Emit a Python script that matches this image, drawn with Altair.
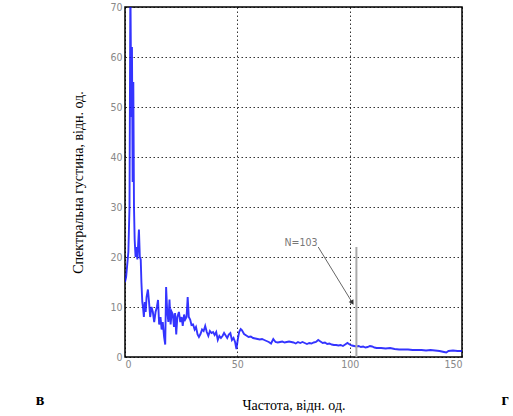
import altair as alt
import pandas as pd

freq = [0, 0.5, 1, 1.5, 2.0, 2.4, 2.8, 3.1, 3.4, 3.7, 4.0, 4.3, 4.7, 5.1, 5.5, 5.9, 6.2, 6.6, 7.0, 7.3,
        7.7, 8.0, 8.4, 8.8, 9.2, 9.6, 10.2, 10.7, 11.2, 11.8, 12.4, 13.0, 13.6, 14.2, 14.7, 15.2, 15.8,
        16.3, 16.8, 17.4, 17.9, 18.3, 18.8, 19.3, 19.8, 20.3, 20.8, 21.3, 21.8, 22.3, 22.8, 23.3, 24.0,
        24.6, 25.2, 25.7, 26.3, 26.8, 27.4, 27.9, 28.4, 29.0, 29.6, 30.3, 31.0, 31.6, 32.3, 32.9, 33.6,
        34.3, 35.0, 35.7, 36.4, 37.1, 37.8, 38.5, 39.2, 39.9, 40.6, 41.3, 42.0, 42.7, 43.4, 44.1, 44.8,
        45.5, 46.2, 46.9, 47.6, 48.3, 49.0, 49.6, 50.2, 50.8, 51.5, 52, 53, 54, 55, 56, 57, 58, 59, 60,
        61, 62, 63, 64, 65, 66, 67, 68, 69, 70, 71, 72, 73, 74, 75, 76, 77, 78, 79, 80, 81, 82, 83, 84,
        85, 86, 87, 88, 89, 90, 91, 92, 93, 94, 95, 96, 97, 98, 99, 100, 101, 102, 103, 104, 105, 106,
        107, 108, 109, 110, 111, 112, 114, 116, 118, 120, 122, 124, 126, 128, 130, 132, 134, 136, 138,
        140, 142, 143, 144, 146, 148, 150]
density = [15, 16, 18.5, 21, 30, 75, 48, 62, 35, 55, 30, 23.5, 20, 22, 19.5, 23, 25.5, 20, 19.5, 15,
           11, 10, 8, 11, 9, 12, 13.5, 11, 8, 10, 9, 7, 9, 10, 11.4, 6.5, 8,
           5.5, 7, 4, 2.5, 14, 9, 7, 11.5, 6.5, 9, 8.5, 6, 8.8, 4.5, 8, 9,
           7, 8, 6.2, 8.5, 7.5, 8, 12, 8, 7.5, 6.4, 6.5, 5.5, 6, 4.5, 4, 4.6,
           5.5, 5.2, 6.2, 5, 4.2, 5.2, 4.8, 5, 4.4, 5, 3.4, 4.2, 3.8, 4.2, 4.8, 4.3,
           3.8, 4.5, 4.8, 3.4, 3.8, 3.0, 1.6, 3.5, 5.0, 5.6, 5.4, 4.6, 4.3, 4.0, 4.1, 3.8, 3.7, 3.6, 3.5,
           3.6, 3.4, 3.2, 3.0, 2.7, 3.6, 3.0, 2.9, 3.0, 3.1, 2.9, 3.0, 3.1, 3.0, 2.9, 2.7, 3.0, 2.8, 3.0, 2.8, 2.6, 2.8, 2.7, 2.9,
           3.0, 3.4, 3.1, 2.8, 2.9, 2.6, 2.7, 2.5, 2.4, 2.4, 2.3, 2.4, 2.2, 2.5, 2.8, 2.5, 2.3, 2.2, 2.1, 2.2, 2.0, 2.1,
           1.9, 2.0, 2.2, 2.1, 1.9, 1.8, 1.8, 1.7, 1.8, 1.6, 1.5, 1.5, 1.5, 1.4, 1.4, 1.4, 1.3, 1.4, 1.3,
           1.2, 1.0, 0.9, 1.2, 1.3, 1.2, 1.2]

x_ticks = [0, 50, 100, 150]
y_ticks = [0, 10, 20, 30, 40, 50, 60, 70]

marker_x = [103, 103]
marker_y = [0, 22]
arrow_x = [86, 101]
arrow_y = [22, 11]
label_text = ["N=103"]
label_x = [71]
label_y = [22.8]

df = pd.DataFrame({"f": freq, "s": density})
marker_df = pd.DataFrame({"x": [marker_x[0]], "y": [marker_y[0]], "y2": [marker_y[1]]})
arrow_df = pd.DataFrame({"x": arrow_x, "y": arrow_y})
head_df = pd.DataFrame({"x": [arrow_x[1]], "y": [arrow_y[1]]})
label_df = pd.DataFrame({"t": label_text, "x": label_x, "y": label_y})

lab_font = "DejaVu Sans Condensed, Liberation Sans Narrow, Liberation Sans, sans-serif"
xscale = alt.Scale(domain=[0, 150], nice=False)
yscale = alt.Scale(domain=[0, 70], nice=False)

x_axis = alt.Axis(values=x_ticks, grid=True, gridColor="black", gridDash=[1.5, 2.5], gridOpacity=0.8,
                  ticks=False, domain=False, labelColor="#888888", labelFont=lab_font, labelFontSize=10.5,
                  labelPadding=2, title="Частота, відн. од.", titleFont="Liberation Serif",
                  titleFontSize=14, titleFontWeight="normal", titleColor="black",
                  titleY=48, titleX=168.5, titleBaseline="middle")
y_axis = alt.Axis(values=y_ticks, grid=True, gridColor="black", gridDash=[1.5, 2.5], gridOpacity=0.8,
                  ticks=False, domain=False, labelColor="#888888", labelFont=lab_font, labelFontSize=10.5,
                  labelPadding=3, title="Спектральна густина, відн. од.", titleFont="Liberation Serif",
                  titleFontSize=14, titleFontWeight="normal", titleColor="black",
                  titleX=-47, titleY=175, titleAngle=-90, titleBaseline="middle", titleAlign="center")

line = alt.Chart(df).mark_line(color="#1010ff", strokeWidth=1.9, opacity=0.85, clip=True).encode(
    x=alt.X("f:Q", scale=xscale, axis=x_axis),
    y=alt.Y("s:Q", scale=yscale, axis=y_axis),
)

marker = alt.Chart(marker_df).mark_rule(color="#aaaaaa", strokeWidth=2).encode(
    x="x:Q", y="y:Q", y2="y2:Q")

arrow = alt.Chart(arrow_df).mark_line(color="#666666", strokeWidth=1).encode(x="x:Q", y="y:Q")

head = alt.Chart(head_df).mark_point(shape="triangle", filled=True, color="#333333", size=30,
                                     angle=148, opacity=1).encode(x="x:Q", y="y:Q")

label = alt.Chart(label_df).mark_text(align="left", baseline="middle", font=lab_font, fontSize=10.5,
                                      color="#777777").encode(x="x:Q", y="y:Q", text="t:N")

corner = alt.Chart(pd.DataFrame({"t": ["в"]})).mark_text(
    font="Liberation Serif", fontSize=16, fontWeight="bold", align="center", baseline="middle",
    color="black").encode(text="t:N", x=alt.value(-85), y=alt.value(393))
corner2 = alt.Chart(pd.DataFrame({"t": ["г"]})).mark_text(
    font="Liberation Serif", fontSize=16, fontWeight="bold", align="center", baseline="middle",
    color="black").encode(text="t:N", x=alt.value(380), y=alt.value(393))

chart = alt.layer(line, marker, arrow, head, label, corner, corner2).properties(
    width=337, height=350,
    autosize=alt.AutoSizeParams(type="none"),
    padding={"left": 125, "top": 7, "right": 51, "bottom": 59},
    background="white",
).configure_view(stroke="black", strokeWidth=1.5)

chart.save("out.html", embed_options={"renderer": "svg", "actions": False})
